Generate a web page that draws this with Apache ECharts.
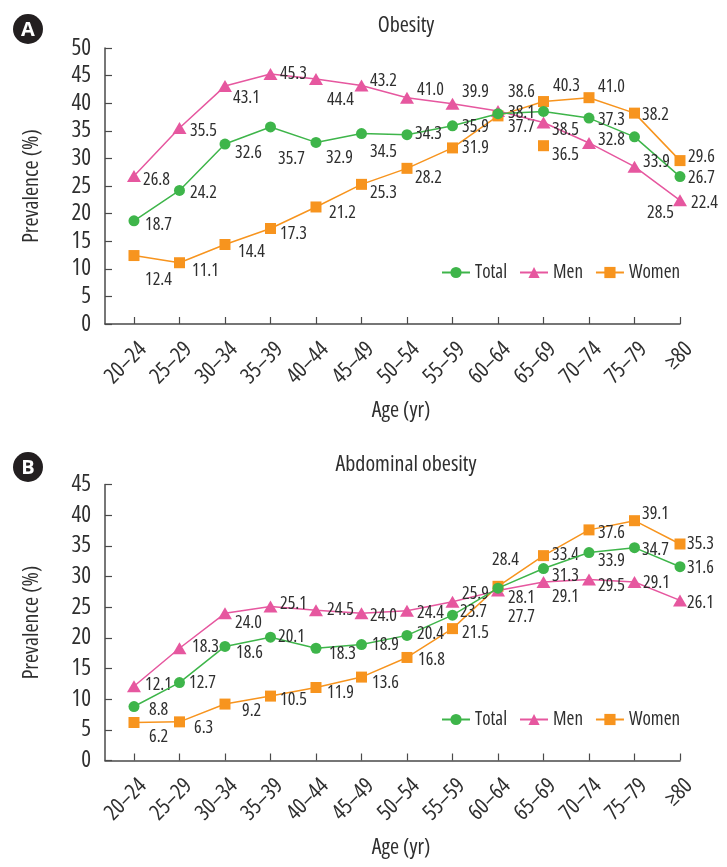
<!DOCTYPE html>
<html>
<head>
<meta charset="utf-8">
<script src="https://cdn.jsdelivr.net/npm/echarts@6/dist/echarts.min.js"></script>
<style>
html,body{margin:0;padding:0;background:#fff;}
#chart{width:727px;height:867px;}
</style>
</head>
<body>
<div id="chart"></div>
<script>
// ---------- data ----------
const ageGroups = ['20–24','25–29','30–34','35–39','40–44','45–49','50–54','55–59','60–64','65–69','70–74','75–79','≥80'];
const seriesNames = ['Total','Men','Women'];

const yTicksObesity = [0,5,10,15,20,25,30,35,40,45,50];
const yTicksAbdominal = [0,5,10,15,20,25,30,35,40,45];

const obesityTotal = [18.7,24.2,32.6,35.7,32.9,34.5,34.3,35.9,38.1,38.5,37.3,33.9,26.7];
const obesityMen   = [26.8,35.5,43.1,45.3,44.4,43.2,41.0,39.9,38.6,36.5,32.8,28.5,22.4];
const obesityWomen = [12.4,11.1,14.4,17.3,21.2,25.3,28.2,31.9,37.7,40.3,41.0,38.2,29.6];
// extra unlabeled women marker drawn in the original panel A
const obesityWomenStrayCats = ['65–69'];
const obesityWomenStrayVals = [32.3];

const abdTotal = [8.8,12.7,18.6,20.1,18.3,18.9,20.4,23.7,28.1,31.3,33.9,34.7,31.6];
const abdMen   = [12.1,18.3,24.0,25.1,24.5,24.0,24.4,25.9,27.7,29.1,29.5,29.1,26.1];
const abdWomen = [6.2,6.3,9.2,10.5,11.9,13.6,16.8,21.5,28.4,33.4,37.6,39.1,35.3];

// ---------- label placement (style only) ----------
const offObTotalX = [11,10.5,10,7.5,10,8.5,8,9.5,10,8.5,9,8.5,8];
const offObTotalY = [4,2,9,32,15,18,-1,1,-1,18,2,25,1];
const offObMenX   = [9,10.5,8,9.5,11,8.5,10,9.5,10,8.5,9,12.5,11];
const offObMenY   = [4,3,12,0,21,-5,-8,-12,-19,32,-3,46,3];
const offObWomenX = [11,12.5,13,9.5,13,8.5,8,9.5,10,9.5,9,7.5,8];
const offObWomenY = [24,8,7,5,6,9,10,0,11,-16,-11,2,-4];

const offAbTotalX = [15,9.5,11,7.5,13,10.5,10,7.5,10,8.5,9,7.5,7];
const offAbTotalY = [3,0,6,0,6,0,-2,-3,10,7,8,2,1];
const offAbMenX   = [11,12.5,10,9.5,11,8.5,10,9.5,10,8.5,9,8.5,7];
const offAbMenY   = [-1,-1,10,-3,0,3,2,-8,26,15,6,1,2];
const offAbWomenX = [15,14.5,17,9.5,11,10.5,11,9.5,-6,8.5,9,7.5,7];
const offAbWomenY = [14,6,7,4,5,6,2,4,-26,-1,3,-7,0];

// ---------- styles / layout ----------
const FONT = '"Open Sans","Roboto",sans-serif';
const STRETCH = 'condensed';
const C_TOTAL = '#3eb54a';
const C_MEN = '#e6579f';
const C_WOMEN = '#f7941e';
const AXIS = '#4a4a4a';
const TXT = '#2f2f2f';
const GRID_L = 105, GRID_R = 47, GRID_H = 276;
const GRID_TOPS = [48, 484.5];
const LABEL_SHIFT = 9;   // rotated category labels sit slightly right of their ticks
const X_MIN = -0.637;

function ts(size) {
  return { fontFamily: FONT, fontStyle: 'normal', fontWeight: STRETCH, fontSize: size, color: TXT };
}

function mkSeries(name, vals, color, symbol, size, offX, offY, gi, z) {
  return {
    type: 'line', name: name, xAxisIndex: gi, yAxisIndex: gi,
    data: vals.map((v, i) => ({ value: [i, v], label: { offset: [offX[i], offY[i]] } })),
    symbol: symbol, symbolSize: size, z: z,
    lineStyle: { color: color, width: 1.5 },
    itemStyle: { color: color },
    label: Object.assign({
      show: true, position: 'inside', align: 'left', verticalAlign: 'middle',
      textBorderWidth: 0,
      formatter: p => p.value[1].toFixed(1)
    }, ts(18)),
    emphasis: { disabled: true },
    animation: false
  };
}

const catIdx = ageGroups.map((c, i) => i);

// main x axis: line + ticks
function mkX(gi) {
  return {
    gridIndex: gi, type: 'value', min: X_MIN, max: ageGroups.length - 1,
    axisLine: { show: true, onZero: false, lineStyle: { color: AXIS, width: 1.5 } },
    axisTick: { show: true, inside: true, length: 7, customValues: catIdx, lineStyle: { color: AXIS, width: 1.2 } },
    axisLabel: { show: false },
    splitLine: { show: false }
  };
}
// label-only x axis in a companion grid shifted right
function mkXLabels(gi) {
  return {
    gridIndex: gi, type: 'value', min: X_MIN, max: ageGroups.length - 1,
    axisLine: { show: false, onZero: false },
    axisTick: { show: false },
    axisLabel: Object.assign({
      customValues: catIdx, rotate: 45, margin: 22,
      formatter: v => ageGroups[Math.round(v)]
    }, ts(22)),
    splitLine: { show: false }
  };
}

function mkY(gi, ticks) {
  return {
    gridIndex: gi, type: 'value', min: ticks[0], max: ticks[ticks.length - 1], interval: ticks[1] - ticks[0],
    axisLine: { show: true, onZero: false, lineStyle: { color: AXIS, width: 1.5 } },
    axisTick: { show: true, inside: true, length: 7, lineStyle: { color: AXIS, width: 1.2 } },
    axisLabel: Object.assign({ margin: 14 }, ts(23)),
    splitLine: { show: false },
    name: 'Prevalence (%)', nameLocation: 'middle', nameGap: 62, nameMoveOverlap: false,
    nameTextStyle: ts(22)
  };
}
function mkYHidden(gi, ticks) {
  return { gridIndex: gi, type: 'value', min: ticks[0], max: ticks[ticks.length - 1], show: false };
}

function mkLegend(top) {
  return {
    data: seriesNames, top: top, left: 436, orient: 'horizontal',
    itemWidth: 28, itemHeight: 14, itemGap: 12,
    textStyle: ts(19),
    selectedMode: false
  };
}

const strayData = obesityWomenStrayCats.map((c, k) => [ageGroups.indexOf(c), obesityWomenStrayVals[k]]);

const option = {
  backgroundColor: '#ffffff',
  animation: false,
  title: [
    { text: 'Obesity', left: 401, top: 10, textAlign: 'center', textStyle: ts(22) },
    { text: 'Abdominal obesity', left: 401, top: 449, textAlign: 'center', textStyle: ts(22) },
    { text: 'Age (yr)', left: 396, top: GRID_TOPS[0] + GRID_H + 71, textAlign: 'center', textStyle: ts(22) },
    { text: 'Age (yr)', left: 396, top: GRID_TOPS[1] + GRID_H + 71, textAlign: 'center', textStyle: ts(22) }
  ],
  legend: [mkLegend(258), mkLegend(705)],
  grid: [
    { left: GRID_L, right: GRID_R, top: GRID_TOPS[0], height: GRID_H },
    { left: GRID_L, right: GRID_R, top: GRID_TOPS[1], height: GRID_H },
    { left: GRID_L + LABEL_SHIFT, right: GRID_R - LABEL_SHIFT, top: GRID_TOPS[0], height: GRID_H },
    { left: GRID_L + LABEL_SHIFT, right: GRID_R - LABEL_SHIFT, top: GRID_TOPS[1], height: GRID_H }
  ],
  xAxis: [mkX(0), mkX(1), mkXLabels(2), mkXLabels(3)],
  yAxis: [mkY(0, yTicksObesity), mkY(1, yTicksAbdominal), mkYHidden(2, yTicksObesity), mkYHidden(3, yTicksAbdominal)],
  series: [
    mkSeries('Women', obesityWomen, C_WOMEN, 'rect', 11, offObWomenX, offObWomenY, 0, 2),
    {
      type: 'scatter', name: 'WomenExtra', xAxisIndex: 0, yAxisIndex: 0, data: strayData,
      symbol: 'rect', symbolSize: 11, itemStyle: { color: C_WOMEN, opacity: 1 }, z: 2, silent: true, animation: false
    },
    mkSeries('Men', obesityMen, C_MEN, 'triangle', [14, 12], offObMenX, offObMenY, 0, 3),
    mkSeries('Total', obesityTotal, C_TOTAL, 'circle', 11, offObTotalX, offObTotalY, 0, 4),
    mkSeries('Women', abdWomen, C_WOMEN, 'rect', 11, offAbWomenX, offAbWomenY, 1, 2),
    mkSeries('Men', abdMen, C_MEN, 'triangle', [14, 12], offAbMenX, offAbMenY, 1, 3),
    mkSeries('Total', abdTotal, C_TOTAL, 'circle', 11, offAbTotalX, offAbTotalY, 1, 4)
  ],
  graphic: [
    { type: 'circle', shape: { cx: 28, cy: 29, r: 15 }, style: { fill: '#231f20' } },
    { type: 'text', x: 28, y: 30, style: { text: 'A', fill: '#ffffff', font: 'bold 20px "Open Sans", sans-serif', textAlign: 'center', textVerticalAlign: 'middle' } },
    { type: 'circle', shape: { cx: 28, cy: 467, r: 15 }, style: { fill: '#231f20' } },
    { type: 'text', x: 28, y: 468, style: { text: 'B', fill: '#ffffff', font: 'bold 20px "Open Sans", sans-serif', textAlign: 'center', textVerticalAlign: 'middle' } }
  ]
};

const chart = echarts.init(document.getElementById('chart'), null, { renderer: 'canvas' });
chart.setOption(option);
</script>
</body>
</html>
